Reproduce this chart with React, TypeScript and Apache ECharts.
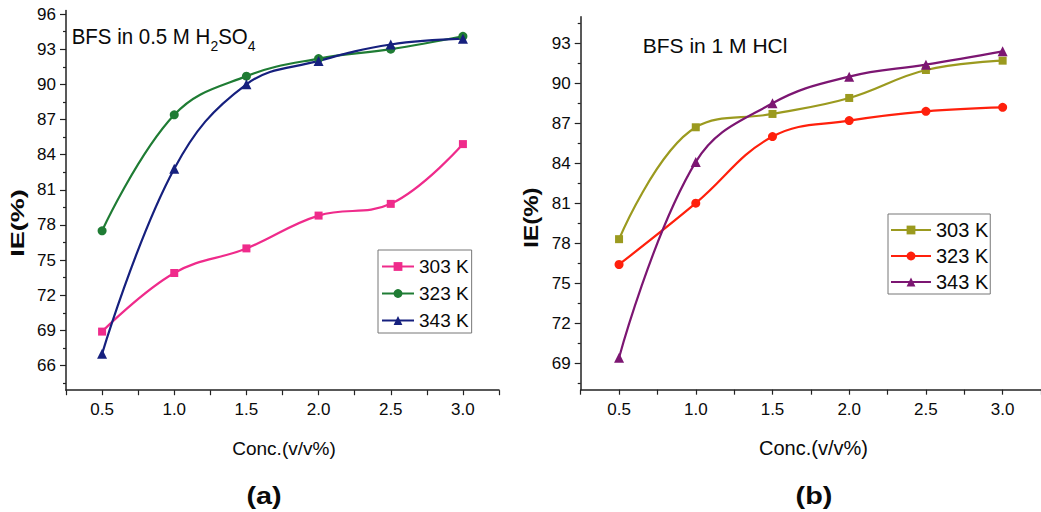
import React, { useEffect, useRef } from "react";
import * as echarts from "echarts";

// Concentration of BFS (v/v %)
const conc = [0.5, 1.0, 1.5, 2.0, 2.5, 3.0];

// Inhibition efficiency (%) in 0.5 M H2SO4
const acid1_303 = [68.9, 73.9, 76.0, 78.8, 79.8, 84.9];
const acid1_323 = [77.5, 87.4, 90.7, 92.2, 93.0, 94.1];
const acid1_343 = [67.0, 82.8, 90.0, 92.0, 93.4, 93.9];

// Inhibition efficiency (%) in 1 M HCl
const acid2_303 = [78.3, 86.7, 87.7, 88.9, 91.0, 91.7];
const acid2_323 = [76.4, 81.0, 86.0, 87.2, 87.9, 88.2];
const acid2_343 = [69.4, 84.1, 88.5, 90.5, 91.4, 92.4];

// Axis ticks
const xMajor = [0.5, 1.0, 1.5, 2.0, 2.5, 3.0];
const xTicks = [0.25, 0.5, 0.75, 1.0, 1.25, 1.5, 1.75, 2.0, 2.25, 2.5, 2.75, 3.0, 3.25];
const yMajorA = [66, 69, 72, 75, 78, 81, 84, 87, 90, 93, 96];
const yMinorA = [64.5, 67.5, 70.5, 73.5, 76.5, 79.5, 82.5, 85.5, 88.5, 91.5, 94.5];
const yMajorB = [69, 72, 75, 78, 81, 84, 87, 90, 93];
const yMinorB = [67.5, 70.5, 73.5, 76.5, 79.5, 82.5, 85.5, 88.5, 91.5, 94.5];

const tempLabels = ["303 K", "323 K", "343 K"];

const FONT = "'Liberation Sans', Arial, sans-serif";
const INK = "#0a0a0a";

const pair = (ys: number[]) => conc.map((x, i) => [x, ys[i]]);

export default function App() {
  const ref = useRef<HTMLDivElement>(null);

  useEffect(() => {
    if (!ref.current) return;
    const chart = echarts.init(ref.current, null, { renderer: "svg" });

    const xAxisFor = (gridIndex: number) => ({
      type: "value",
      gridIndex,
      min: 0.25,
      max: 3.25,
      axisLine: { show: true, lineStyle: { color: "#222", width: 1.5 } },
      axisTick: { show: true, customValues: xTicks, length: 5, lineStyle: { color: "#222", width: 1.2 } },
      axisLabel: {
        customValues: xMajor,
        formatter: (v: number) => v.toFixed(1),
        fontSize: 17,
        fontFamily: FONT,
        color: INK,
        margin: 11,
      },
      splitLine: { show: false },
    });

    const yAxisFor = (gridIndex: number, min: number, max: number, major: number[]) => ({
      type: "value",
      gridIndex,
      min,
      max,
      position: "left",
      axisLine: { show: true, lineStyle: { color: "#222", width: 1.5 } },
      axisTick: { show: true, customValues: major, length: 6, lineStyle: { color: "#222", width: 1.2 } },
      axisLabel: { customValues: major, fontSize: 17, fontFamily: FONT, color: INK, margin: 10 },
      splitLine: { show: false },
    });

    const yMinorFor = (gridIndex: number, min: number, max: number, minor: number[]) => ({
      type: "value",
      gridIndex,
      min,
      max,
      position: "left",
      offset: 0,
      axisLine: { show: false },
      axisTick: { show: true, customValues: minor, length: 3, lineStyle: { color: "#222", width: 1.2 } },
      axisLabel: { show: false },
      splitLine: { show: false },
    });

    const line = (
      name: string,
      ys: number[],
      color: string,
      symbol: string,
      symbolSize: number,
      axisIdx: number,
      yIdx: number
    ) => ({
      name,
      type: "line",
      xAxisIndex: axisIdx,
      yAxisIndex: yIdx,
      data: pair(ys),
      smooth: 0.4,
      symbol,
      symbolSize,
      showSymbol: true,
      lineStyle: { color, width: 2.2 },
      itemStyle: { color },
    });

    const legendFor = (
      prefix: string,
      left: number,
      top: number,
      fontSize: number,
      itemWidth: number,
      itemGap: number,
      padding: number[]
    ) => ({
      orient: "vertical",
      left,
      top,
      data: tempLabels.map((t) => prefix + t),
      formatter: (n: string) => n.slice(prefix.length),
      itemWidth,
      itemHeight: 11,
      itemGap,
      padding,
      borderColor: "#777",
      borderWidth: 1,
      textStyle: { fontSize, fontFamily: FONT, color: INK, lineHeight: fontSize },
      selectedMode: false,
    });

    chart.setOption({
      animation: false,
      backgroundColor: "#ffffff",
      grid: [
        { left: 66, top: 10.5, width: 433, height: 379.7 },
        { left: 580.7, top: 16.7, width: 466, height: 373 },
      ],
      xAxis: [xAxisFor(0), xAxisFor(1)],
      yAxis: [
        yAxisFor(0, 63.9, 96.3, yMajorA),
        yMinorFor(0, 63.9, 96.3, yMinorA),
        yAxisFor(1, 67, 95, yMajorB),
        yMinorFor(1, 67, 95, yMinorB),
      ],
      legend: [
        legendFor("a:", 378, 250, 19, 32, 8, [7, 3, 3, 3]),
        legendFor("b:", 888, 214, 20, 40, 6, [6, 2, 2, 2]),
      ],
      series: [
        line("a:303 K", acid1_303, "#ef2b8b", "rect", 8, 0, 0),
        line("a:323 K", acid1_323, "#1f7c34", "circle", 9, 0, 0),
        line("a:343 K", acid1_343, "#16207e", "triangle", 10, 0, 0),
        line("b:303 K", acid2_303, "#9b9a1f", "rect", 8, 1, 2),
        line("b:323 K", acid2_323, "#ff200c", "circle", 9, 1, 2),
        line("b:343 K", acid2_343, "#7c1672", "triangle", 10, 1, 2),
      ],
      graphic: [
        {
          type: "text",
          x: 71.7,
          y: 37,
          scaleX: 0.93,
          style: {
            text: "BFS in 0.5 M H{sub|2}SO{sub|4}",
            font: `22px ${FONT}`,
            fill: INK,
            verticalAlign: "middle",
            rich: { sub: { fontSize: 15, fontFamily: FONT, fill: INK, padding: [18, 0, 0, 0] } },
          },
        },
        {
          type: "text",
          x: 642.7,
          y: 45.7,
          style: { text: "BFS in 1 M HCl", font: `21px ${FONT}`, fill: INK, verticalAlign: "middle" },
        },
        {
          type: "text",
          x: 17.5,
          y: 223,
          rotation: Math.PI / 2,
          scaleX: 1.5,
          style: { text: "IE(%)", font: `bold 18px ${FONT}`, fill: INK, align: "center", verticalAlign: "middle" },
        },
        {
          type: "text",
          x: 531,
          y: 217.5,
          rotation: Math.PI / 2,
          scaleX: 1.15,
          style: { text: "IE(%)", font: `bold 21px ${FONT}`, fill: INK, align: "center", verticalAlign: "middle" },
        },
        {
          type: "text",
          x: 284,
          y: 448,
          style: { text: "Conc.(v/v%)", font: `19px ${FONT}`, fill: INK, align: "center", verticalAlign: "middle" },
        },
        {
          type: "text",
          x: 813.5,
          y: 448,
          style: { text: "Conc.(v/v%)", font: `20px ${FONT}`, fill: INK, align: "center", verticalAlign: "middle" },
        },
        {
          type: "text",
          x: 264,
          y: 496,
          scaleX: 1.2,
          style: { text: "(a)", font: `bold 24px ${FONT}`, fill: INK, align: "center", verticalAlign: "middle" },
        },
        {
          type: "text",
          x: 814,
          y: 496,
          scaleX: 1.2,
          style: { text: "(b)", font: `bold 24px ${FONT}`, fill: INK, align: "center", verticalAlign: "middle" },
        },
      ],
    });

    return () => chart.dispose();
  }, []);

  return (
    <div
      ref={ref}
      style={{ position: "absolute", left: 0, top: 0, width: 1041, height: 512, overflow: "hidden" }}
    />
  );
}
